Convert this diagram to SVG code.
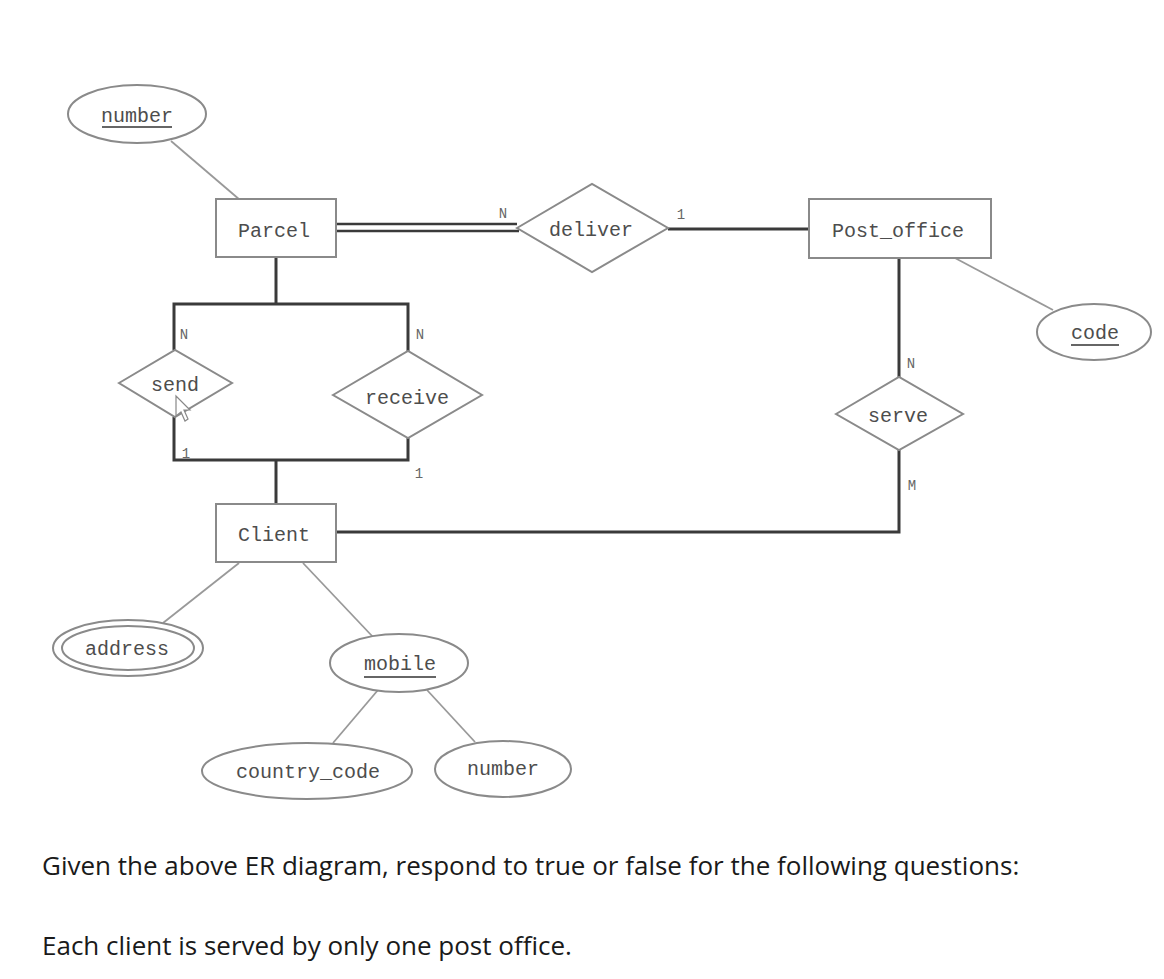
<svg xmlns="http://www.w3.org/2000/svg" width="1164" height="979" viewBox="0 0 1164 979">
<style>
.shape{fill:#fff;stroke:#8a8a8a;stroke-width:2}
.lbl{font-family:"Liberation Mono",monospace;font-size:20px;fill:#4d4d4d;text-anchor:middle}
.card{font-family:"Liberation Mono",monospace;font-size:14px;fill:#666;text-anchor:middle}
.rel{fill:none;stroke:#3a3a3a;stroke-width:3}
.attr{fill:none;stroke:#999;stroke-width:1.8}
.ul{stroke:#666;stroke-width:2}
.q{font-family:"Open Sans",sans-serif;font-size:26px;fill:#1a1a1a}
</style>
<rect width="1164" height="979" fill="#fff"/>
<g id="connectors">
<line class="attr" x1="171" y1="141" x2="240" y2="200"/>
<line class="attr" x1="955" y1="258" x2="1053" y2="310"/>
<line class="attr" x1="239" y1="563" x2="163" y2="623"/>
<line class="attr" x1="303" y1="563" x2="373" y2="637"/>
<line class="attr" x1="378" y1="690" x2="333" y2="743"/>
<line class="attr" x1="427" y1="690" x2="475" y2="742"/>
<line stroke="#3a3a3a" stroke-width="2.5" x1="336" y1="224" x2="517" y2="224"/>
<line stroke="#3a3a3a" stroke-width="2.5" x1="336" y1="231" x2="519" y2="231"/>
<line class="rel" x1="668" y1="229" x2="810" y2="229"/>
<polyline class="rel" points="899,258 899,377"/>
<polyline class="rel" points="899,450 899,532 336,532"/>
<polyline class="rel" points="276,257 276,304"/>
<polyline class="rel" points="174,350 174,304 408,304 408,351"/>
<polyline class="rel" points="174,417 174,460 408,460 408,438"/>
<polyline class="rel" points="276,460 276,504"/>
<text class="card" x="503" y="218">N</text>
<text class="card" x="681" y="219">1</text>
<text class="card" x="911" y="368">N</text>
<text class="card" x="912" y="490">M</text>
<text class="card" x="184" y="339">N</text>
<text class="card" x="420" y="339">N</text>
<text class="card" x="186" y="458">1</text>
<text class="card" x="419" y="478">1</text>
</g>
<g id="number1">
<ellipse class="shape" cx="137" cy="114" rx="69" ry="29"/>
<text class="lbl" x="137" y="122">number</text>
<line class="ul" x1="102" y1="127" x2="172" y2="127"/>
</g>
<g id="parcel">
<rect class="shape" x="216" y="199" width="120" height="58"/>
<text class="lbl" x="274" y="237">Parcel</text>
</g>
<g id="deliver">
<polygon class="shape" points="517,228 592,184 668,228 592,272"/>
<text class="lbl" x="591" y="236">deliver</text>
</g>
<g id="post_office">
<rect class="shape" x="809" y="199" width="182" height="59"/>
<text class="lbl" x="898" y="237">Post_office</text>
</g>
<g id="code">
<ellipse class="shape" cx="1094" cy="332" rx="57" ry="28"/>
<text class="lbl" x="1095" y="339">code</text>
<line class="ul" x1="1071" y1="345" x2="1119" y2="345"/>
</g>
<g id="serve">
<polygon class="shape" points="836,414 899,377 963,414 899,450"/>
<text class="lbl" x="898" y="422">serve</text>
</g>
<g id="send">
<polygon class="shape" points="119,383 175,350 232,383 175,417"/>
<text class="lbl" x="175" y="391">send</text>
</g>
<g id="receive">
<polygon class="shape" points="333,395 408,351 482,395 408,438"/>
<text class="lbl" x="407" y="404">receive</text>
</g>
<g id="client">
<rect class="shape" x="216" y="504" width="120" height="58"/>
<text class="lbl" x="274" y="541">Client</text>
</g>
<g id="address">
<ellipse class="shape" cx="128" cy="648" rx="75" ry="28"/>
<ellipse class="shape" cx="128" cy="648" rx="66" ry="22"/>
<text class="lbl" x="127" y="655">address</text>
</g>
<g id="mobile">
<ellipse class="shape" cx="399" cy="663" rx="69" ry="29"/>
<text class="lbl" x="400" y="670">mobile</text>
<line class="ul" x1="364" y1="677" x2="436" y2="677"/>
</g>
<g id="country_code">
<ellipse class="shape" cx="307" cy="771" rx="105" ry="28"/>
<text class="lbl" x="308" y="778">country_code</text>
</g>
<g id="number2">
<ellipse class="shape" cx="503" cy="769" rx="68" ry="28"/>
<text class="lbl" x="503" y="775">number</text>
</g>
<polygon points="176,396 176,416 181,412 185,421 188,419 184,410 190,410" fill="#fff" stroke="#888" stroke-width="1.2"/>
<text class="q" x="42" y="875">Given the above ER diagram, respond to true or false for the following questions:</text>
<text class="q" x="42" y="955">Each client is served by only one post office.</text>
</svg>
